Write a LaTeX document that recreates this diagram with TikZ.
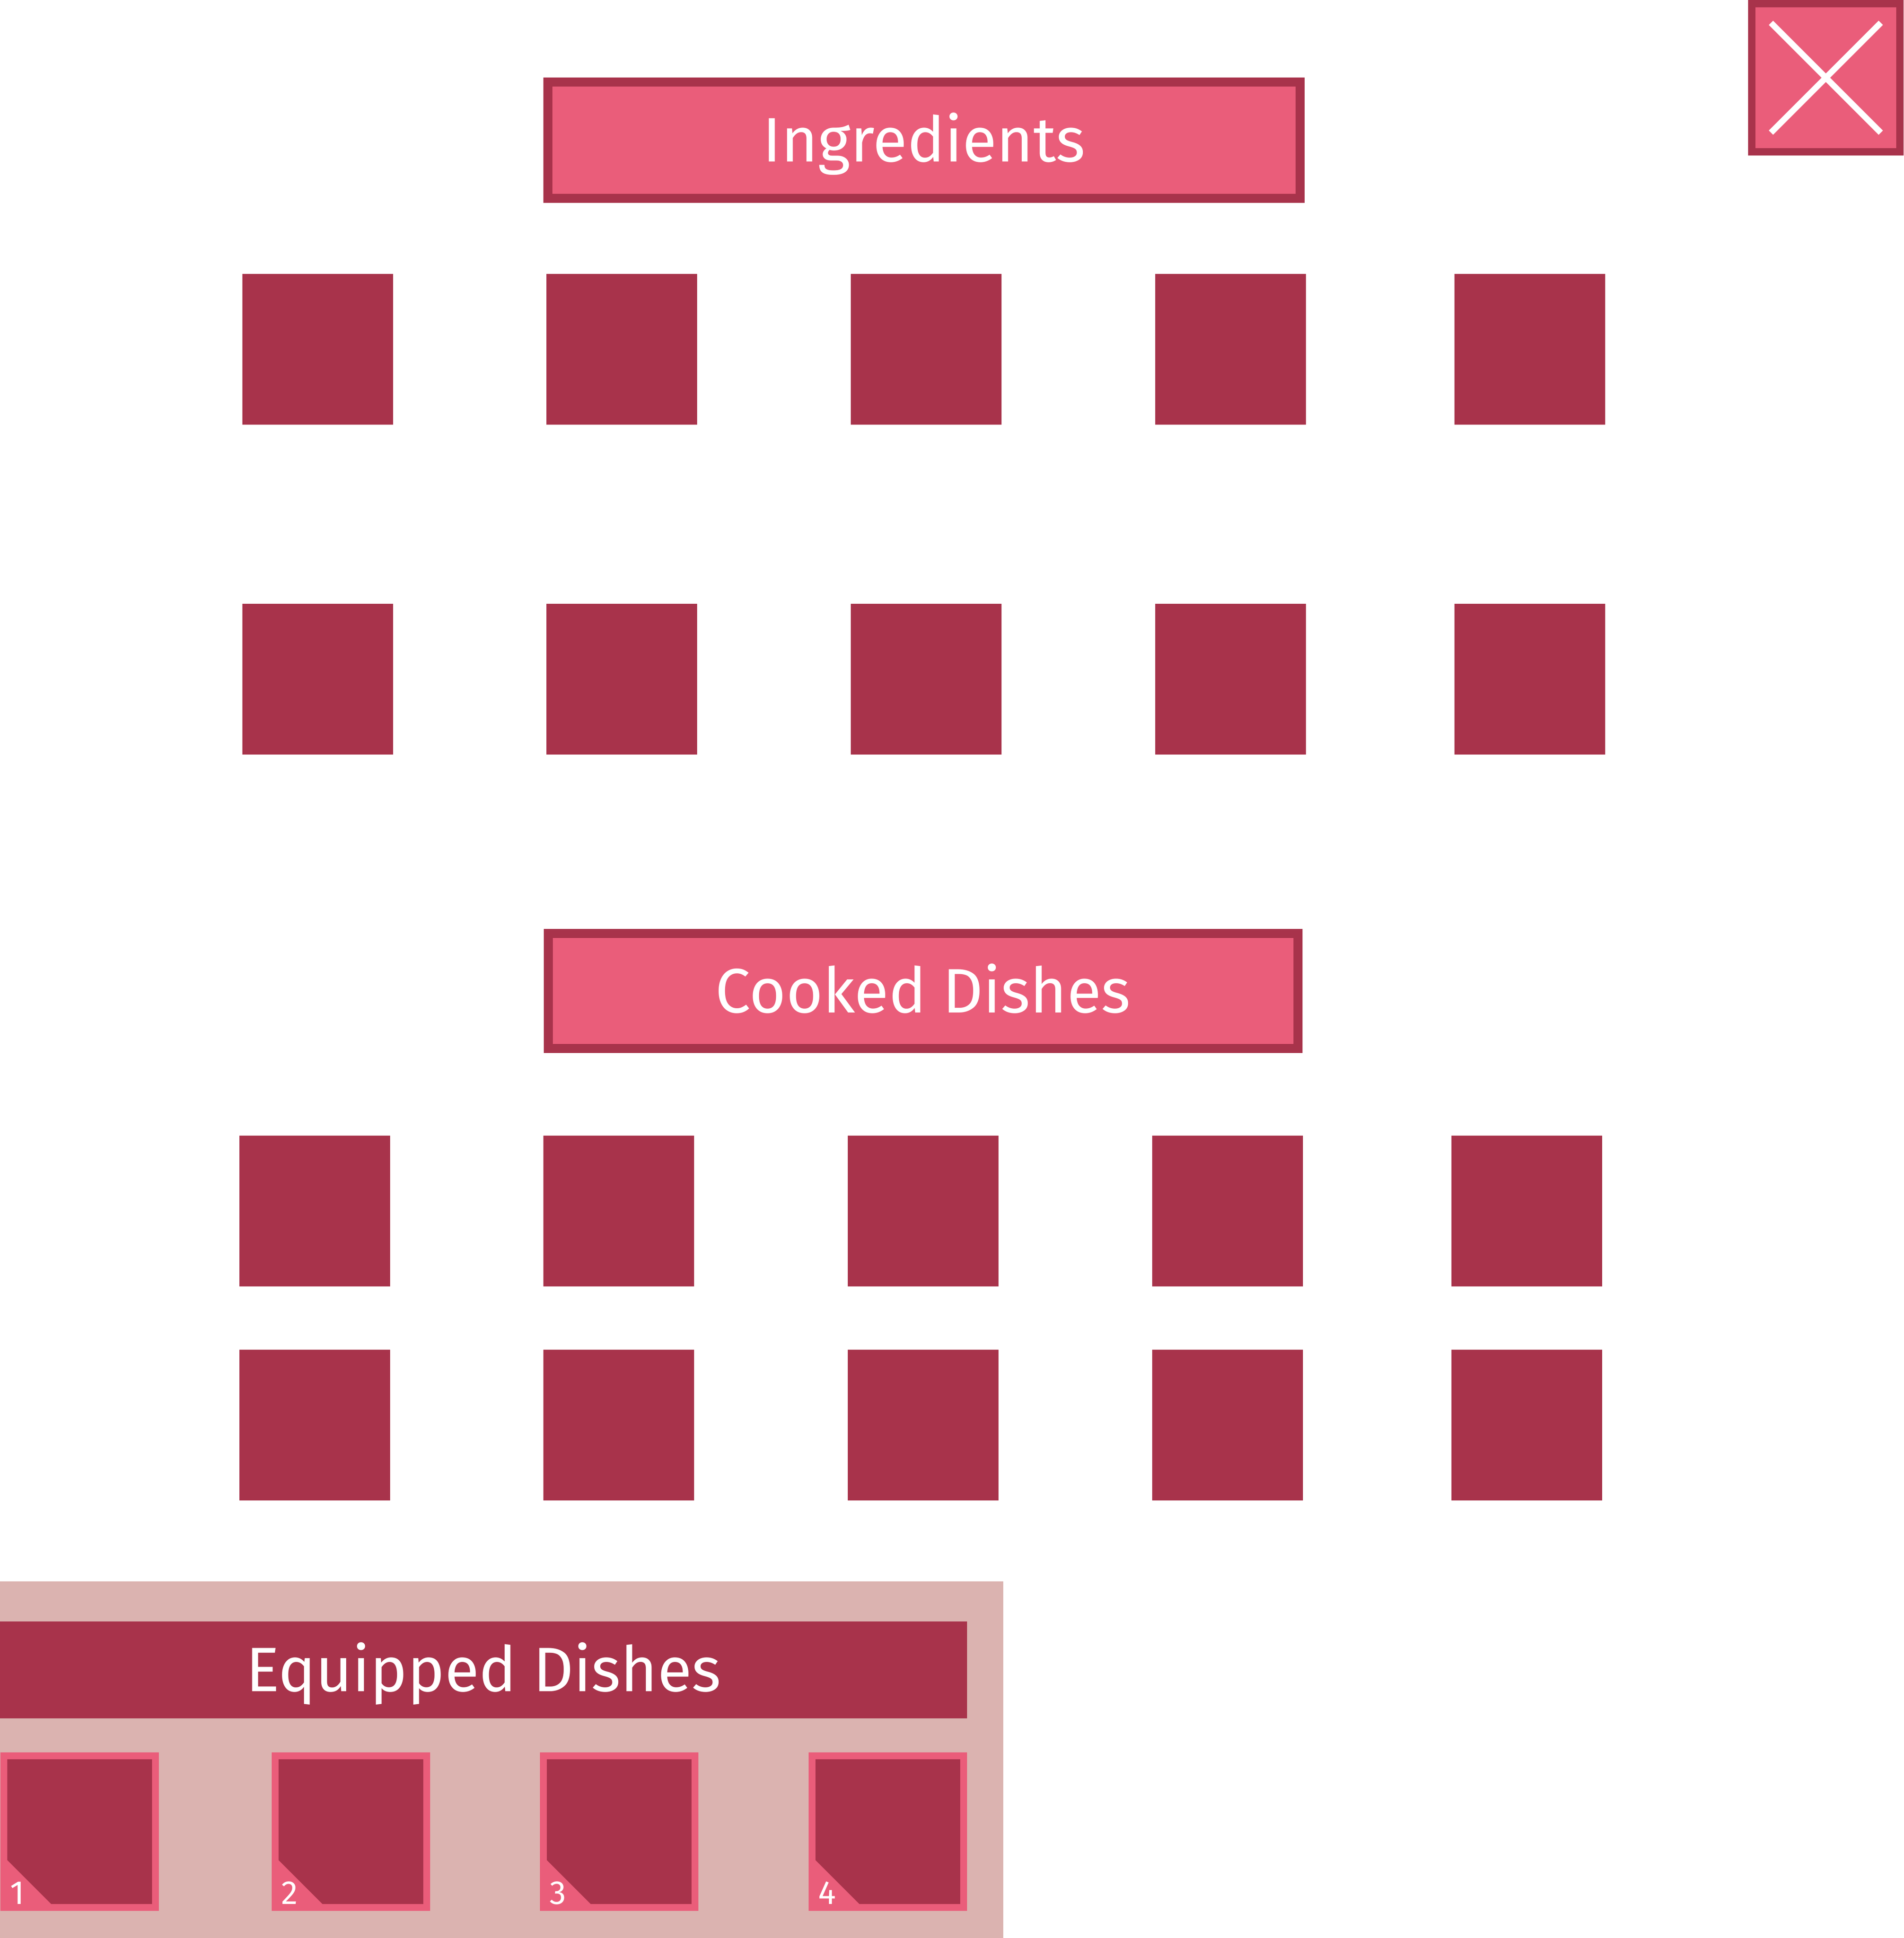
\documentclass[tikz,border=0pt]{standalone}
\usepackage{fontspec}
\setmainfont{Fira Sans}
\usetikzlibrary{positioning}
\definecolor{wine}{HTML}{A8334B}
\definecolor{rose}{HTML}{EA5D7A}
\definecolor{blush}{HTML}{DBB3B0}

\begin{document}
\begin{tikzpicture}[
node distance = 3.56cm,
every node/.style = {
	inner sep = 0pt,
	outer sep = 0pt
},
header/.style = {
	draw = wine,
	fill = rose,
	line width = 0.21cm,
	text = white,
	font = \fontsize{41.5}{50}\selectfont,
	text height = 28.6pt,
	text depth = 0pt
},
bar/.style = {
	fill = wine,
	text = white,
	font = \fontsize{41.5}{50}\selectfont,
	text height = 28.6pt,
	text depth = 0pt
},
tile/.style = {
	fill = wine,
	minimum size = 3.5cm
},
slot/.style = {
	fill = rose,
	minimum size = 3.68cm
},
slotnum/.style = {
	anchor = base west,
	text = white,
	font = \fontsize{22}{26}\selectfont
}
]
\useasboundingbox (0,0) rectangle (44.21,-45);

% close button
\node (close) [draw = wine, fill = rose, line width = 0.17cm, minimum size = 3.44cm] at (42.405,-1.805) {};
\draw [white, line width = 0.14cm] ([shift={(-1.275,1.275)}]close.center) -- ([shift={(1.275,-1.275)}]close.center);
\draw [white, line width = 0.14cm] ([shift={(-1.275,-1.275)}]close.center) -- ([shift={(1.275,1.275)}]close.center);

% ingredients
\node (ingredients) [header, minimum width = 17.47cm, minimum height = 2.70cm] at (21.46,-3.255) {Ingredients};

\node (ing_1) [tile] at (7.38,-8.11) {};
\node (ing_2) [tile, right = of ing_1] {};
\node (ing_3) [tile, right = 3.57cm of ing_2] {};
\node (ing_4) [tile, right = 3.57cm of ing_3] {};
\node (ing_5) [tile, right = 3.45cm of ing_4] {};

\node (ing_6) [tile, below = 4.16cm of ing_1] {};
\node (ing_7) [tile, below = 4.16cm of ing_2] {};
\node (ing_8) [tile, below = 4.16cm of ing_3] {};
\node (ing_9) [tile, below = 4.16cm of ing_4] {};
\node (ing_10) [tile, below = 4.16cm of ing_5] {};

% cooked dishes
\node (cooked) [header, minimum width = 17.41cm, minimum height = 2.67cm] at (21.44,-23.01) {Cooked Dishes};

\node (dish_1) [tile] at (7.31,-28.12) {};
\node (dish_2) [tile, right = of dish_1] {};
\node (dish_3) [tile, right = 3.57cm of dish_2] {};
\node (dish_4) [tile, right = 3.57cm of dish_3] {};
\node (dish_5) [tile, right = 3.45cm of dish_4] {};

\node (dish_6) [tile, below = 1.47cm of dish_1] {};
\node (dish_7) [tile, below = 1.47cm of dish_2] {};
\node (dish_8) [tile, below = 1.47cm of dish_3] {};
\node (dish_9) [tile, below = 1.47cm of dish_4] {};
\node (dish_10) [tile, below = 1.47cm of dish_5] {};

% equipped dishes
\node (equip_bg) [fill = blush, minimum width = 23.30cm, minimum height = 8.28cm, anchor = north west] at (0,-36.72) {};
\node (equipped) [bar, minimum width = 22.46cm, minimum height = 2.25cm, anchor = north west] at (0,-37.65) {Equipped Dishes};

\node (slot_1) [slot, anchor = north west] at (0.01,-40.69) {};
\node (slot_2) [slot, right = 2.62cm of slot_1] {};
\node (slot_3) [slot, right = 2.55cm of slot_2] {};
\node (slot_4) [slot, right = 2.56cm of slot_3] {};

\foreach \i in {1,...,4} {
	\fill [wine] ([shift={(0.16,-0.16)}]slot_\i.north west) -- ([shift={(3.52,-0.16)}]slot_\i.north west)
		-- ([shift={(3.52,-3.52)}]slot_\i.north west) -- ([shift={(1.18,-3.52)}]slot_\i.north west)
		-- ([shift={(0.16,-2.50)}]slot_\i.north west) -- cycle;
	\node [slotnum] at ([shift={(0.22,0.16)}]slot_\i.south west) {\i};
}

\end{tikzpicture}
\end{document}
